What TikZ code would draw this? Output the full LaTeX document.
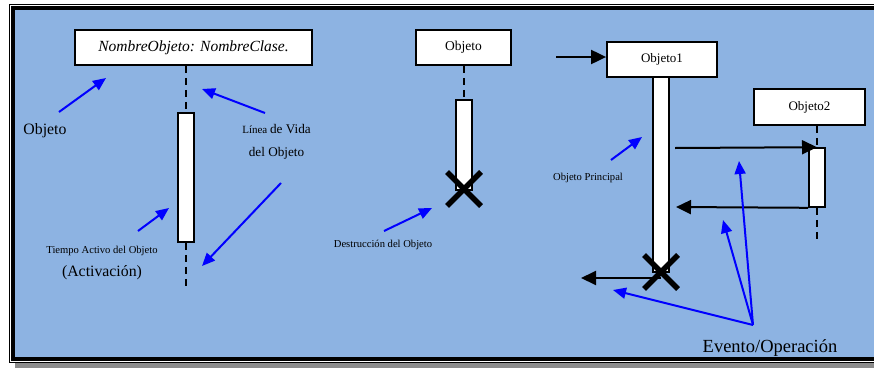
\documentclass[tikz,border=0pt]{standalone}
\usepackage{fontspec}
\setmainfont{Liberation Serif}
\usetikzlibrary{arrows.meta}
\definecolor{bgblue}{RGB}{141,179,226}
\newcommand{\fs}[1]{\fontsize{#1}{#1}\selectfont}
\begin{document}
\begin{tikzpicture}[x=1pt,y=-1pt,
  objbox/.style={draw=black,line width=1.8pt,fill=white,inner sep=0pt},
  actbox/.style={draw=black,line width=1.6pt,fill=white,inner sep=0pt,minimum width=16pt},
  lifeline/.style={line width=1.8pt,dash pattern=on 7pt off 5pt},
  msg/.style={line width=2pt,-{Triangle[length=15pt,width=14pt]}},
  note/.style={blue,line width=2pt,-{Triangle[length=13pt,width=11pt]}},
  xmark/.style={line width=5.5pt},
  lbl/.style={inner sep=0pt,anchor=base,align=center}]
\useasboundingbox (0,0) rectangle (874,367);
% frame
\fill[white] (0,0) rectangle (874,367);
\fill[black!45] (15,363) rectangle (880,368);
\draw[line width=1pt] (9,4) rectangle (890,362);
\fill[black] (11,6) rectangle (890,361);
\fill[bgblue] (15,10) rectangle (874,357);

% ---- left: generic object ----
\node[objbox,minimum width=237pt,minimum height=35pt] (nb) at (193.5,47.5)
  {\fs{15.5}\itshape NombreObjeto: NombreClase.};
\node[actbox,minimum height=129pt] (a1) at (186,177.5) {};
\coordinate (l1end) at (186,290);
\draw[lifeline] (a1.north |- nb.south) -- (a1.north);
\draw[lifeline] (a1.south) -- (l1end);

\node[lbl] (tObj) at (45,134) {\fs{15.8}Objeto};
\node[lbl] (tLinea) at (276.5,133) {\fs{11}Línea {\fs{13.2}de Vida}};
\node[lbl] (tDel) at (276.5,156) {\fs{13.2}del Objeto};
\node[lbl] (tTiempo) at (102,253) {\fs{10.6}Tiempo Activo del Objeto};
\node[lbl] (tAct) at (102,276) {\fs{15.8}(Activación)};

\coordinate (p1s) at (59,112);  \coordinate (p1e) at (106,78);
\coordinate (p2s) at (265,113); \coordinate (p2e) at (202,89);
\coordinate (p3s) at (281,183); \coordinate (p3e) at (202,266);
\coordinate (p4s) at (138,231); \coordinate (p4e) at (169,208);
\draw[note] (p1s) -- (p1e);
\draw[note] (p2s) -- (p2e);
\draw[note] (p3s) -- (p3e);
\draw[note] (p4s) -- (p4e);

% ---- middle: destruction ----
\node[objbox,minimum width=95pt,minimum height=35pt] (ob) at (463.5,47.5) {\fs{13.5}Objeto};
\node[actbox,minimum height=90pt] (a2) at (464,145) {};
\draw[lifeline] (a2.north |- ob.south) -- (a2.north);
\coordinate (x1a) at (447,172); \coordinate (x1b) at (481,206);
\coordinate (x1c) at (481,172); \coordinate (x1d) at (447,206);
\draw[xmark] (x1a) -- (x1b);
\draw[xmark] (x1c) -- (x1d);
\node[lbl] (tDest) at (383,247) {\fs{10.6}Destrucción del Objeto};
\coordinate (p5s) at (384,231); \coordinate (p5e) at (432,208);
\draw[note] (p5s) -- (p5e);

% ---- right: interaction ----
\node[objbox,minimum width=110pt,minimum height=35pt] (o1) at (662,59.5) {\fs{13}Objeto1};
\node[actbox,minimum height=195pt] (a3) at (661,174.5) {};
\node[objbox,minimum width=111pt,minimum height=36pt] (o2) at (809.5,107) {\fs{13}Objeto2};
\node[actbox,minimum height=59pt] (a4) at (817,177.5) {};
\coordinate (l4end) at (817,242);
\draw[lifeline] (a4.north |- o2.south) -- (a4.north);
\draw[lifeline] (a4.south) -- (l4end);

\coordinate (in) at (556,57);
\draw[msg] (in) -- (o1.west |- in);
\coordinate (m1s) at (675,148);
\draw[msg] (m1s) -- (a4.north);
\coordinate (m2e) at (676,207);
\draw[msg] (a4.south west) -- (m2e);
\coordinate (x2c) at (661,278); \coordinate (m3e) at (581,278);
\draw[msg] (x2c) -- (m3e);
\coordinate (x2a) at (644,255); \coordinate (x2b) at (678,289);
\coordinate (x2d) at (678,255); \coordinate (x2f) at (644,289);
\draw[xmark] (x2a) -- (x2b);
\draw[xmark] (x2d) -- (x2f);

\node[lbl] (tPrin) at (588,180) {\fs{10.6}Objeto Principal};
\coordinate (p6s) at (611,160); \coordinate (p6e) at (642,137);
\draw[note] (p6s) -- (p6e);

\node[lbl] (tEv) at (770,352) {\fs{18.5}Evento/Operación};
\coordinate (ev) at (753,325);
\coordinate (e1) at (613,290); \coordinate (e2) at (723,220); \coordinate (e3) at (739,161);
\draw[note] (ev) -- (e1);
\draw[note] (ev) -- (e2);
\draw[note] (ev) -- (e3);
\end{tikzpicture}
\end{document}
